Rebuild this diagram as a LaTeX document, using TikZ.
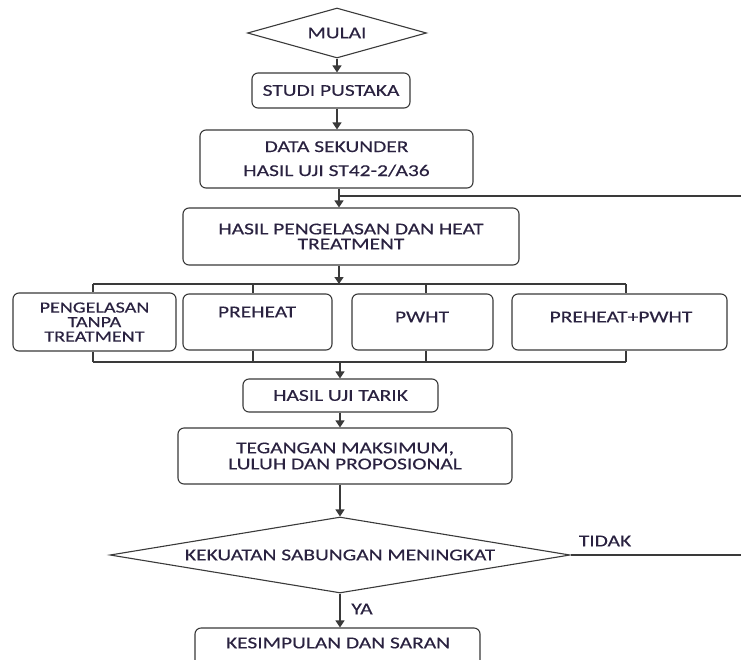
\documentclass[tikz,border=0pt]{standalone}
\usepackage{fontspec}
\setmainfont{Carlito}[FakeStretch=1.3,FakeBold=0.3]
\usetikzlibrary{shapes.geometric,arrows.meta}
\definecolor{ln}{HTML}{3A3A3A}
\definecolor{tx}{HTML}{2A2240}
\begin{document}
\begin{tikzpicture}[x=1pt,y=-1pt,
  box/.style={draw=ln,line width=1.1pt,rounded corners=6pt,inner sep=0pt,text=tx,align=center,font=\fontsize{16.5}{15}\selectfont},
  dia/.style={draw=ln,line width=1.1pt,diamond,inner sep=0pt,text=tx,font=\fontsize{16.5}{15}\selectfont},
  lbl/.style={text=tx,inner sep=0pt,align=center,font=\fontsize{16.5}{15}\selectfont},
  con/.style={draw=ln,line width=1.3pt},
  arr/.style={con,-{Triangle[width=9pt,length=7pt]}}]
\useasboundingbox (0,0) rectangle (741,659);
\clip (0,0) rectangle (741,659);
\fill[white] (0,0) rectangle (741,659);

% nodes
\node[dia,aspect=3.58,minimum width=179pt,minimum height=50pt] (mulai) at (337,33) {MULAI};
\node[box,minimum width=158pt,minimum height=35pt] (studi) at (331,90.5) {STUDI PUSTAKA};
\node[box,minimum width=273pt,minimum height=58pt,font=\fontsize{16.5}{24}\selectfont] (data) at (336.5,159) {DATA SEKUNDER\\HASIL UJI ST42-2/A36};
\node[box,minimum width=336pt,minimum height=57pt] (hasil) at (351,236.5) {HASIL PENGELASAN DAN HEAT\\TREATMENT};

\node[box,minimum width=163pt,minimum height=58pt,font=\fontsize{15.5}{14.5}\selectfont] (p1) at (94.5,322) {PENGELASAN\\TANPA\\TREATMENT};
\node[box,minimum width=149pt,minimum height=56pt] (p2) at (257.5,322) {};
\node[box,minimum width=141pt,minimum height=56pt] (p3) at (422.5,322) {};
\node[box,minimum width=215pt,minimum height=56pt] (p4) at (619.5,322) {};
\node[lbl] (p2t) at (257,312) {PREHEAT};
\node[lbl] (p3t) at (422,317) {PWHT};
\node[lbl] (p4t) at (621,317) {PREHEAT+PWHT};

\node[box,minimum width=195pt,minimum height=33pt] (tarik) at (340.5,395.5) {HASIL UJI TARIK};
\node[box,minimum width=334pt,minimum height=56pt,font=\fontsize{16.5}{16}\selectfont] (teg) at (345,456) {TEGANGAN MAKSIMUM,\\LULUH DAN PROPOSIONAL};
\node[dia,aspect=6.05,minimum width=460pt,minimum height=76pt] (dec) at (340,555) {KEKUATAN SABUNGAN MENINGKAT};
\node[box,minimum width=285pt,minimum height=40pt] (kes) at (337.5,648) {};
\node[lbl] (kest) at (338,643) {KESIMPULAN DAN SARAN};

\node[lbl] (tidak) at (605,541) {TIDAK};
\node[lbl] (ya) at (362,609) {YA};

% coordinates
\coordinate (j1) at (339,196);
\coordinate (fb1) at (750,196);
\coordinate (fb2) at (750,556);
\coordinate (bj) at (339,284);
\coordinate (b1) at (93,284);
\coordinate (b2) at (253,284);
\coordinate (b3) at (426,284);
\coordinate (b4) at (626,284);
\coordinate (m1) at (93,362);
\coordinate (m2) at (253,362);
\coordinate (m3) at (426,362);
\coordinate (m4) at (626,362);
\coordinate (m0) at (340,362);

% connectors
\draw[arr] (mulai.south) -- (mulai.south |- studi.north);
\draw[arr] (mulai.south |- studi.south) -- (mulai.south |- data.north);
\draw[arr] (data.south -| j1) -- (hasil.north -| j1);
\draw[con] (dec.east) -- (dec.east -| fb2) -- (fb1) -- (j1);
\draw[arr] (hasil.south -| bj) -- (bj);
\draw[con] (b1) -- (b4);
\draw[con] (b1) -- (b1 |- p1.north);
\draw[con] (b2) -- (b2 |- p2.north);
\draw[con] (b3) -- (b3 |- p3.north);
\draw[con] (b4) -- (b4 |- p4.north);
\draw[con] (m1) -- (m4);
\draw[con] (m1 |- p1.south) -- (m1);
\draw[con] (m2 |- p2.south) -- (m2);
\draw[con] (m3 |- p3.south) -- (m3);
\draw[con] (m4 |- p4.south) -- (m4);
\draw[arr] (m0) -- (m0 |- tarik.north);
\draw[arr] (m0 |- tarik.south) -- (m0 |- teg.north);
\draw[arr] (dec.north |- teg.south) -- (dec.north);
\draw[arr] (dec.south) -- (dec.south |- kes.north);
\end{tikzpicture}
\end{document}
